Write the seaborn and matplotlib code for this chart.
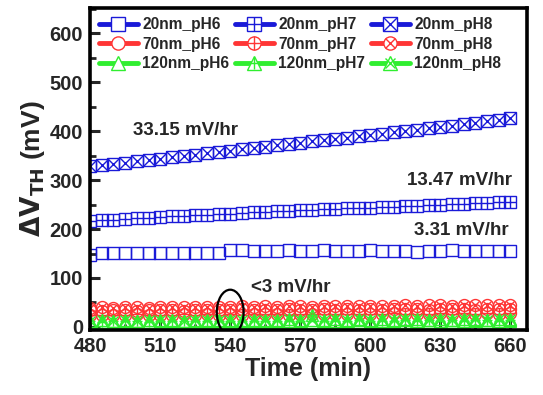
import numpy as np
import pandas as pd
import matplotlib
matplotlib.use("Agg")
import matplotlib.pyplot as plt
import seaborn as sns
from matplotlib.lines import Line2D
from matplotlib.legend_handler import HandlerTuple
from matplotlib.patches import Ellipse
from matplotlib.ticker import MultipleLocator

# time axis (min)
time = [480, 485, 490, 495, 500, 505, 510, 515, 520, 525, 530, 535, 540, 545, 550, 555,
        560, 565, 570, 575, 580, 585, 590, 595, 600, 605, 610, 615, 620, 625, 630, 635,
        640, 645, 650, 655, 660]

nm20_ph6 = [147, 151, 151, 152, 151, 152, 151, 152, 151, 152, 152, 152, 157, 157, 156, 155,
            156, 157, 156, 155, 157, 156, 155, 156, 157, 156, 156, 155, 154, 155, 156, 157,
            156, 155, 156, 156, 156]
nm20_ph7 = [216, 218, 219, 221, 222, 223, 224, 226, 227, 228, 229, 230, 231, 233, 234, 235,
            236, 237, 238, 239, 240, 241, 242, 243, 244, 245, 246, 247, 248, 249, 250, 251,
            252, 253, 254, 255, 256]
nm20_ph8 = [328, 331, 333, 336, 339, 342, 344, 347, 349, 352, 355, 357, 359, 363, 365, 368,
            371, 374, 376, 379, 381, 384, 387, 390, 392, 395, 398, 400, 403, 406, 409, 411,
            414, 417, 420, 423, 426]
nm70_ph6 = [34, 33, 34, 35, 33, 34, 35, 34, 33, 35, 34, 35, 34, 36, 35, 34,
            35, 36, 35, 34, 36, 35, 36, 35, 36, 35, 36, 37, 36, 35, 36, 37,
            36, 35, 37, 36, 37]
nm70_ph7 = [24, 25, 24, 25, 26, 25, 24, 25, 26, 25, 26, 25, 26, 25, 26, 27,
            26, 25, 26, 27, 26, 27, 26, 27, 26, 27, 28, 27, 26, 27, 28, 27,
            28, 27, 28, 27, 28]
nm70_ph8 = [39, 40, 39, 40, 40, 39, 40, 41, 40, 40, 41, 40, 41, 42, 41, 42,
            41, 42, 42, 41, 42, 43, 42, 43, 42, 43, 43, 44, 43, 44, 44, 43,
            44, 45, 44, 45, 45]
nm120_ph6 = [9, 10, 9, 10, 11, 10, 9, 10, 10, 11, 10, 9, 10, 11, 10, 10,
             11, 10, 10, 11, 10, 11, 10, 11, 11, 10, 11, 11, 10, 11, 11, 10,
             11, 12, 11, 11, 12]
nm120_ph7 = [12, 11, 12, 13, 12, 11, 12, 13, 12, 12, 13, 12, 13, 12, 13, 12,
             13, 12, 13, 25, 13, 12, 13, 14, 13, 12, 13, 14, 13, 14, 13, 14,
             13, 14, 14, 13, 14]
nm120_ph8 = [13, 14, 13, 14, 13, 14, 15, 14, 13, 14, 15, 14, 15, 14, 15, 14,
             15, 16, 15, 14, 15, 16, 15, 16, 15, 16, 15, 16, 16, 15, 16, 15,
             16, 16, 15, 16, 16]

labels = ["20nm_pH6", "20nm_pH7", "20nm_pH8",
          "70nm_pH6", "70nm_pH7", "70nm_pH8",
          "120nm_pH6", "120nm_pH7", "120nm_pH8"]
series = [nm20_ph6, nm20_ph7, nm20_ph8, nm70_ph6, nm70_ph7, nm70_ph8,
          nm120_ph6, nm120_ph7, nm120_ph8]

blue, red, green = "#1a1ad8", "#ff3535", "#30ee30"
colors = [blue] * 3 + [red] * 3 + [green] * 3
# base marker, inner marker, inner size factor
shapes = [("s", None, 1.0), ("s", "+", 1.0), ("s", "x", 1.0),
          ("o", None, 1.0), ("o", "+", 1.0), ("o", "x", 0.72),
          ("^", None, 1.0), ("^", "+", 0.9), ("^", "x", 0.8)]

sns.set_theme(style="ticks")
plt.rcParams["font.family"] = ["Liberation Sans", "DejaVu Sans"]
plt.rcParams["font.weight"] = "bold"

fig = plt.figure(figsize=(5.43, 3.95), dpi=100)
ax = fig.add_axes([0.166, 0.165, 0.804, 0.815])

ms = 8.6
handles = []
for lab, vals, c, (m, inner, f) in zip(labels, series, colors, shapes):
    df = pd.DataFrame({"time": time, "dv": vals})
    sns.lineplot(data=df, x="time", y="dv", ax=ax, linestyle="none", marker=m,
                 markersize=ms, markerfacecolor="none", markeredgecolor=c,
                 markeredgewidth=1.0, errorbar=None)
    h = [Line2D([], [], color=c, lw=3.5, marker=m, markersize=9.5,
                markerfacecolor="white", markeredgecolor=c, markeredgewidth=1.0)]
    if inner is not None:
        sns.lineplot(data=df, x="time", y="dv", ax=ax, linestyle="none", marker=inner,
                     markersize=ms * f, markeredgecolor=c, color=c,
                     markeredgewidth=1.0, errorbar=None)
        h.append(Line2D([], [], linestyle="none", marker=inner, markersize=9.5 * f,
                        markeredgecolor=c, markeredgewidth=1.0))
    handles.append(tuple(h))

ax.set_xlim(480, 667)
ax.set_ylim(-6, 652)
ax.xaxis.set_major_locator(MultipleLocator(30))
ax.xaxis.set_minor_locator(MultipleLocator(15))
ax.yaxis.set_major_locator(MultipleLocator(100))
ax.yaxis.set_minor_locator(MultipleLocator(50))
ax.tick_params(which="major", direction="in", length=7, width=2.2, labelsize=14.5, pad=5)
ax.tick_params(which="minor", direction="in", length=4, width=2.0)
for lbl in ax.get_xticklabels() + ax.get_yticklabels():
    lbl.set_fontweight("bold")
for sp in ax.spines.values():
    sp.set_linewidth(2.6)
    sp.set_color("black")

ax.set_xlabel("Time (min)", fontsize=18, fontweight="bold", labelpad=1)
ax.set_ylabel(r"$\mathbf{\Delta V_{TH}}$ (mV)", fontsize=19, fontweight="bold", labelpad=2)

# legend, 3 columns
order = [0, 3, 6, 1, 4, 7, 2, 5, 8]
ax.legend([handles[i] for i in order], [labels[i] for i in order], ncol=3,
          loc="upper left", bbox_to_anchor=(-0.012, 1.015), frameon=False,
          handler_map={tuple: HandlerTuple(ndivide=1)}, handlelength=2.5,
          handletextpad=0.3, columnspacing=0.35, labelspacing=0.3,
          prop={"size": 11.2, "weight": "bold"})

# slope annotations
ax.text(521, 402, "33.15 mV/hr", fontsize=13.5, fontweight="bold", ha="center", va="center")
ax.text(638, 300, "13.47 mV/hr", fontsize=13.5, fontweight="bold", ha="center", va="center")
ax.text(639, 198, "3.31 mV/hr", fontsize=13.5, fontweight="bold", ha="center", va="center")
ax.text(566, 80, "<3 mV/hr", fontsize=13.5, fontweight="bold", ha="center", va="center")
ax.add_patch(Ellipse((540, 30), 11.5, 92, fill=False, edgecolor="black", lw=1.6, zorder=5))

fig.savefig("out.png", dpi=100)
